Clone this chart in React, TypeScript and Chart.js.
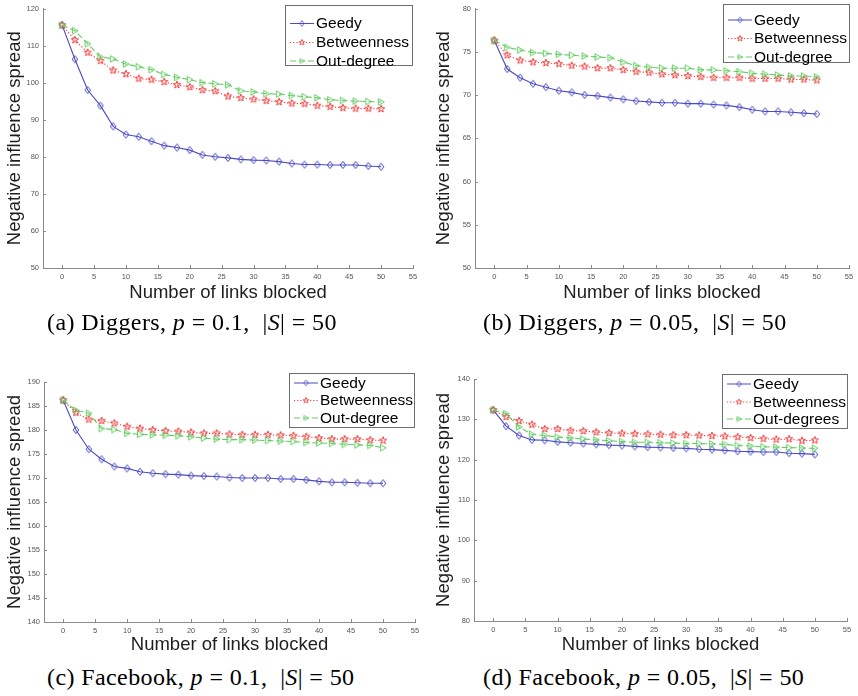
import React, { useEffect, useRef } from 'react';
import { Chart, registerables } from 'chart.js';

Chart.register(...registerables);

// ---------- data ----------
const xLinks = [0, 2, 4, 6, 8, 10, 12, 14, 16, 18, 20, 22, 24, 26, 28, 30, 32, 34, 36, 38, 40, 42, 44, 46, 48, 50];
const seriesNames = ['Geedy', 'Betweenness', 'Out-degree'];
const seriesNamesD = ['Geedy', 'Betweenness', 'Out-degrees'];
const xAxisTitle = 'Number of links blocked';
const yAxisTitle = 'Negative influence spread';

// (a) Diggers, p = 0.1
const dig1Greedy = [115.5, 106.3, 98.0, 93.8, 88.2, 86.0, 85.4, 84.2, 83.0, 82.5, 81.8, 80.5, 80.0, 79.7, 79.3, 79.1, 79.0, 78.7, 78.2, 77.9, 77.9, 77.8, 77.8, 77.8, 77.5, 77.3];
const dig1Betw = [115.5, 111.5, 108.1, 105.9, 103.3, 102.3, 101.1, 100.8, 100.2, 99.4, 98.8, 98.0, 97.7, 96.3, 95.9, 95.5, 95.1, 94.8, 94.4, 94.3, 93.8, 93.5, 93.2, 93.0, 93.0, 92.9];
const dig1Out = [115.5, 114.0, 110.5, 107.0, 106.4, 105.0, 104.3, 103.5, 102.2, 101.4, 100.8, 100.0, 99.7, 99.4, 97.8, 97.5, 97.0, 96.9, 96.5, 96.2, 95.9, 95.4, 95.2, 95.0, 94.9, 94.8];

// (b) Diggers, p = 0.05
const dig2Greedy = [76.3, 73.0, 72.0, 71.3, 70.9, 70.5, 70.3, 70.0, 69.9, 69.7, 69.5, 69.3, 69.2, 69.1, 69.1, 69.0, 69.0, 68.9, 68.8, 68.6, 68.3, 68.1, 68.1, 68.0, 67.9, 67.8];
const dig2Betw = [76.3, 74.6, 74.0, 73.8, 73.7, 73.6, 73.4, 73.3, 73.1, 73.1, 72.9, 72.7, 72.6, 72.4, 72.3, 72.2, 72.1, 72.0, 72.0, 72.0, 71.9, 71.9, 71.9, 71.8, 71.8, 71.7];
const dig2Out = [76.3, 75.5, 75.2, 74.9, 74.8, 74.7, 74.6, 74.5, 74.4, 74.3, 73.8, 73.4, 73.2, 73.1, 73.1, 73.1, 72.9, 72.9, 72.8, 72.7, 72.5, 72.4, 72.3, 72.2, 72.2, 72.1];

// (c) Facebook, p = 0.1
const fb1Greedy = [186.2, 180.0, 176.0, 173.9, 172.4, 172.0, 171.3, 171.0, 170.8, 170.7, 170.5, 170.4, 170.3, 170.1, 170.0, 170.0, 170.0, 169.8, 169.8, 169.6, 169.3, 169.1, 169.1, 169.0, 168.9, 168.9];
const fb1Betw = [186.2, 183.6, 182.2, 181.9, 181.4, 180.7, 180.3, 180.0, 179.8, 179.7, 179.5, 179.3, 179.3, 179.1, 179.0, 179.0, 179.0, 178.9, 178.8, 178.6, 178.3, 178.1, 178.1, 178.1, 177.9, 177.8];
const fb1Out = [186.2, 184.1, 183.5, 180.3, 180.1, 179.3, 179.1, 179.0, 178.9, 178.8, 178.6, 178.3, 178.1, 178.0, 178.0, 177.9, 177.8, 177.7, 177.6, 177.4, 177.3, 177.2, 177.0, 176.9, 176.8, 176.3];

// (d) Facebook, p = 0.05
const fb2Greedy = [132.3, 128.3, 126.0, 124.9, 124.8, 124.4, 124.2, 124.0, 123.8, 123.6, 123.5, 123.3, 123.1, 123.0, 122.9, 122.8, 122.6, 122.5, 122.3, 122.1, 122.0, 121.9, 121.9, 121.6, 121.5, 121.3];
const fb2Betw = [132.3, 130.6, 129.6, 128.7, 127.6, 127.6, 127.2, 127.1, 126.8, 126.6, 126.5, 126.4, 126.3, 126.2, 126.1, 126.1, 126.0, 125.9, 125.8, 125.6, 125.4, 125.2, 125.0, 125.1, 124.7, 124.8];
const fb2Out = [132.3, 131.4, 128.1, 126.3, 126.0, 125.6, 125.4, 125.1, 124.9, 124.7, 124.5, 124.3, 124.3, 124.2, 124.1, 124.0, 124.0, 123.9, 123.8, 123.5, 123.4, 123.2, 123.1, 123.0, 122.9, 122.8];

// y-axis ranges [min, max, step]
const yRangeA = [50, 120, 10];
const yRangeB = [50, 80, 5];
const yRangeC = [140, 190, 5];
const yRangeD = [80, 140, 10];
const xRange = [-3, 55, 5];

// ---------- styles ----------
const BLUE = '#4a4ac4';
const RED = '#f03c3c';
const GREEN = '#66cc66';
const AXIS = '#8a8a8a';

function makeMarker(kind: string, color: string): HTMLCanvasElement {
  const c = document.createElement('canvas');
  c.width = 10;
  c.height = 10;
  const ctx = c.getContext('2d')!;
  ctx.strokeStyle = color;
  ctx.lineWidth = 1;
  ctx.beginPath();
  const cx = 5, cy = 5;
  if (kind === 'diamond') {
    ctx.moveTo(cx, cy - 3.6);
    ctx.lineTo(cx + 2.8, cy);
    ctx.lineTo(cx, cy + 3.6);
    ctx.lineTo(cx - 2.8, cy);
    ctx.closePath();
  } else if (kind === 'star') {
    const R = 3.8, r = 1.6;
    for (let i = 0; i < 10; i++) {
      const a = -Math.PI / 2 + (i * Math.PI) / 5;
      const rad = i % 2 === 0 ? R : r;
      const px = cx + rad * Math.cos(a);
      const py = cy + rad * Math.sin(a);
      if (i === 0) ctx.moveTo(px, py);
      else ctx.lineTo(px, py);
    }
    ctx.closePath();
  } else {
    ctx.moveTo(cx - 2.6, cy - 3.3);
    ctx.lineTo(cx + 3.2, cy);
    ctx.lineTo(cx - 2.6, cy + 3.3);
    ctx.closePath();
  }
  ctx.stroke();
  return c;
}

const inwardTicks = {
  id: 'inwardTicks',
  afterDraw(chart: any) {
    const { ctx, chartArea } = chart;
    const xs = chart.scales.x;
    const ys = chart.scales.y;
    ctx.save();
    ctx.strokeStyle = AXIS;
    ctx.lineWidth = 1;
    ctx.beginPath();
    xs.ticks.forEach((t: any) => {
      const px = Math.round(xs.getPixelForValue(t.value)) + 0.5;
      ctx.moveTo(px, chartArea.bottom);
      ctx.lineTo(px, chartArea.bottom - 3);
    });
    ys.ticks.forEach((t: any) => {
      const py = Math.round(ys.getPixelForValue(t.value)) + 0.5;
      ctx.moveTo(chartArea.left, py);
      ctx.lineTo(chartArea.left + 3, py);
    });
    ctx.stroke();
    ctx.restore();
  },
};

const boxLegend = {
  id: 'boxLegend',
  afterDraw(chart: any, _args: any, opts: any) {
    if (!opts || !opts.box) return;
    const { ctx } = chart;
    const b = opts.box;
    ctx.save();
    ctx.fillStyle = '#ffffff';
    ctx.fillRect(b.x, b.y, b.w, b.h);
    ctx.strokeStyle = '#6e6e6e';
    ctx.lineWidth = 1;
    ctx.strokeRect(b.x + 0.5, b.y + 0.5, b.w, b.h);
    chart.data.datasets.forEach((ds: any, i: number) => {
      const cy = b.y + b.rows[i];
      ctx.strokeStyle = ds.borderColor;
      ctx.lineWidth = 1;
      ctx.setLineDash(ds.borderDash || []);
      ctx.beginPath();
      ctx.moveTo(b.x + 5, cy);
      ctx.lineTo(b.x + 29, cy);
      ctx.stroke();
      ctx.setLineDash([]);
      const img = ds.pointStyle as HTMLCanvasElement;
      const s = 8;
      ctx.drawImage(img, b.x + 17 - s / 2, cy - s / 2, s, s);
      ctx.fillStyle = '#000';
      ctx.font = '15.5px "Liberation Sans", Arial, sans-serif';
      ctx.textBaseline = 'middle';
      ctx.textAlign = 'left';
      ctx.fillText(chart.data.datasets[i].label, b.x + 31, cy + 0.5);
    });
    ctx.restore();
  },
};

type Panel = {
  left: number; top: number; width: number; height: number;
  padTop: number; padRight: number; yWidth: number; xHeight: number;
  yRange: number[]; names: string[]; series: number[][];
  legend: { x: number; y: number; w: number; h: number; rows: number[] };
};

const panels: Panel[] = [
  {
    left: 0, top: 0, width: 429, height: 308, padTop: 7, padRight: 16, yWidth: 43, xHeight: 40,
    yRange: yRangeA, names: seriesNames, series: [dig1Greedy, dig1Betw, dig1Out],
    legend: { x: 285, y: 5, w: 127, h: 60, rows: [18.5, 37.5, 56] },
  },
  {
    left: 429, top: 0, width: 429, height: 308, padTop: 8, padRight: 9, yWidth: 46, xHeight: 40,
    yRange: yRangeB, names: seriesNames, series: [dig2Greedy, dig2Betw, dig2Out],
    legend: { x: 294, y: 4, w: 126, h: 58, rows: [16, 34.5, 53] },
  },
  {
    left: 0, top: 340, width: 429, height: 320, padTop: 42, padRight: 14, yWidth: 44, xHeight: 38,
    yRange: yRangeC, names: seriesNames, series: [fb1Greedy, fb1Betw, fb1Out],
    legend: { x: 289, y: 33, w: 125, h: 54, rows: [10, 27.5, 45] },
  },
  {
    left: 429, top: 340, width: 429, height: 320, padTop: 39, padRight: 11, yWidth: 45, xHeight: 39,
    yRange: yRangeD, names: seriesNamesD, series: [fb2Greedy, fb2Betw, fb2Out],
    legend: { x: 293, y: 34, w: 125, h: 54, rows: [10, 28, 45] },
  },
];

const captions = [
  { left: 47, top: 307, tag: '(a)', net: 'Diggers', p: '0.1', s: '50' },
  { left: 483, top: 307, tag: '(b)', net: 'Diggers', p: '0.05', s: '50' },
  { left: 47, top: 662, tag: '(c)', net: 'Facebook', p: '0.1', s: '50' },
  { left: 483, top: 662, tag: '(d)', net: 'Facebook', p: '0.05', s: '50' },
];

function PanelChart({ panel }: { panel: Panel }) {
  const ref = useRef<HTMLCanvasElement | null>(null);
  useEffect(() => {
    const markers = [
      makeMarker('diamond', BLUE),
      makeMarker('star', RED),
      makeMarker('tri', GREEN),
    ];
    const colors = [BLUE, RED, GREEN];
    const dashes = [[], [1.2, 2], [6, 3]];
    const datasets = panel.series.map((vals, i) => ({
      label: panel.names[i],
      data: xLinks.map((x, k) => ({ x, y: vals[k] })),
      borderColor: colors[i],
      backgroundColor: colors[i],
      borderWidth: 1.1,
      borderDash: dashes[i],
      pointStyle: markers[i],
      pointRadius: 4,
      tension: 0,
      fill: false,
      order: 3 - i,
    }));
    const tickFont = { family: '"Liberation Sans", Arial, sans-serif', size: 7.5 };
    const titleFont = { family: '"Liberation Sans", Arial, sans-serif', size: 18.5 };
    const chart = new Chart(ref.current!, {
      type: 'line',
      data: { datasets },
      options: {
        animation: false,
        responsive: false,
        layout: { padding: { top: panel.padTop, right: panel.padRight, left: 0, bottom: 0 } },
        plugins: {
          legend: { display: false },
          tooltip: { enabled: false },
          boxLegend: { box: panel.legend },
        } as any,
        scales: {
          x: {
            type: 'linear',
            min: xRange[0],
            max: xRange[1],
            grid: { display: false, drawTicks: false },
            border: { display: true, color: AXIS, width: 1 },
            ticks: { stepSize: xRange[2], includeBounds: false, font: tickFont, color: '#555', padding: 4, maxRotation: 0 },
            title: { display: true, text: xAxisTitle, font: titleFont, color: '#1e1e1e', padding: { top: 0, bottom: 4 } },
            afterFit: (s: any) => { s.height = panel.xHeight; },
          },
          y: {
            type: 'linear',
            min: panel.yRange[0],
            max: panel.yRange[1],
            grid: { display: false, drawTicks: false },
            border: { display: true, color: AXIS, width: 1 },
            ticks: { stepSize: panel.yRange[2], font: tickFont, color: '#555', padding: 4 },
            title: { display: true, text: yAxisTitle, font: titleFont, color: '#1e1e1e', padding: { top: 4, bottom: 0 } },
            afterFit: (s: any) => { s.width = panel.yWidth; },
          },
        },
      } as any,
      plugins: [inwardTicks, boxLegend],
    });
    return () => chart.destroy();
  }, [panel]);
  return (
    <canvas
      ref={ref}
      width={panel.width}
      height={panel.height}
      style={{ position: 'absolute', left: panel.left, top: panel.top, width: panel.width, height: panel.height }}
    />
  );
}

export default function App() {
  return (
    <div style={{ position: 'absolute', left: 0, top: 0, width: 858, height: 696, background: '#fff', overflow: 'hidden' }}>
      {panels.map((p, i) => (
        <PanelChart key={i} panel={p} />
      ))}
      {captions.map((c, i) => (
        <div
          key={i}
          style={{
            position: 'absolute',
            left: c.left,
            top: c.top,
            font: '24px "Liberation Serif", "Times New Roman", serif',
            lineHeight: '30px',
            letterSpacing: '0.4px',
            whiteSpace: 'pre',
            color: '#000',
          }}
        >
          {c.tag} {c.net}, <i>p</i> = {c.p},  |<i>S</i>| = {c.s}
        </div>
      ))}
    </div>
  );
}
